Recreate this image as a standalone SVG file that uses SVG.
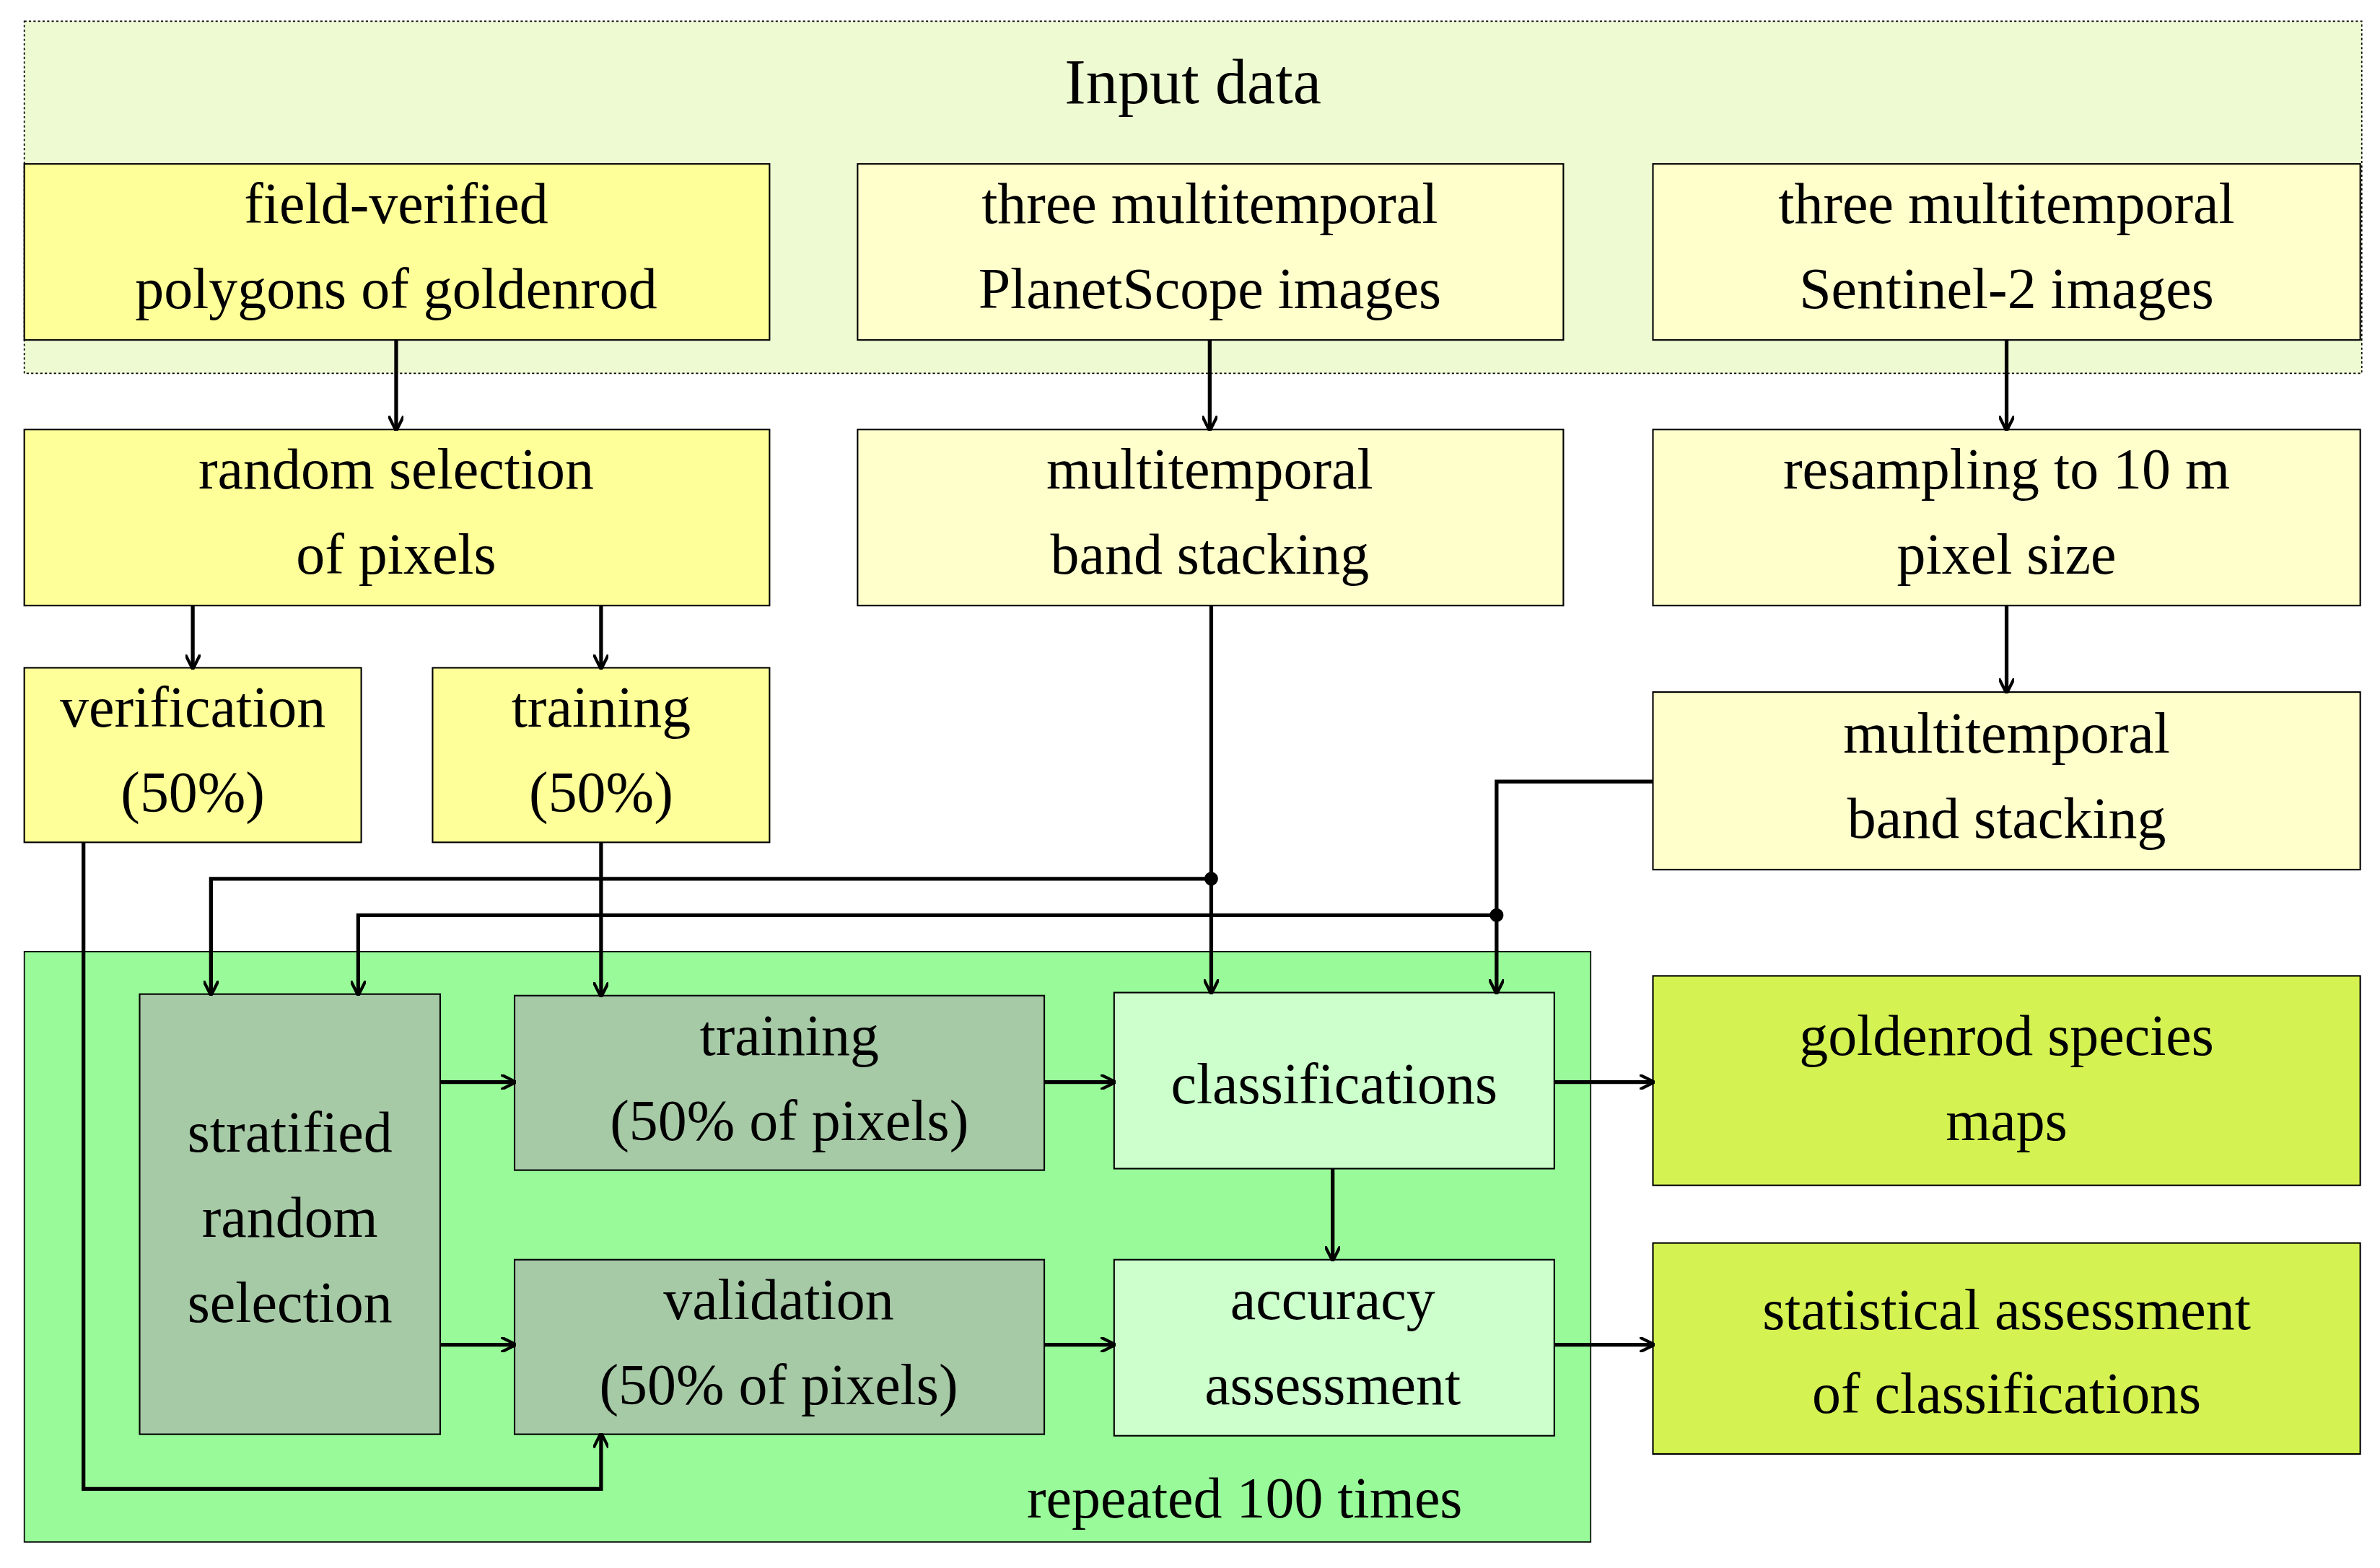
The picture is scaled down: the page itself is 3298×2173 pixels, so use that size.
<svg xmlns="http://www.w3.org/2000/svg" width="3298" height="2173" viewBox="0 0 3298 2173">
<defs>
<marker id="ah" viewBox="0 0 10 10" refX="9" refY="5" markerWidth="4" markerHeight="4" orient="auto" markerUnits="strokeWidth"><path d="M0,0 L10,5 L0,10" fill="none" stroke="#000" stroke-width="2"/></marker>
<style>
.b{stroke:#000;stroke-width:1}
.y1{fill:#ffff99}.y2{fill:#ffffcc}.dg{fill:#a6c9a6}.lg{fill:#ccffcc}.yg{fill:#d4f252}
text{font-family:"Liberation Serif","DejaVu Serif",serif;font-size:38px;text-anchor:middle;fill:#000}
.c{fill:none;stroke:#000;stroke-width:2.5}
.a{marker-end:url(#ah)}
</style>
</defs>
<rect width="3298" height="2173" fill="#fff"/>
<g transform="scale(2.1033)">
<g id="input"><rect x="16" y="14" width="1540" height="232" fill="#eefad2" stroke="#000" stroke-width="0.8" stroke-dasharray="1.5,1.5"/><text x="786" y="68" style="font-size:42px">Input data</text></g>
<g id="n1"><rect class="b y1" x="16" y="108" width="491" height="116"/><text x="261" y="147">field-verified</text><text x="261" y="203">polygons of goldenrod</text></g>
<g id="n2"><rect class="b y2" x="565" y="108" width="465" height="116"/><text x="797" y="147">three multitemporal</text><text x="797" y="203">PlanetScope images</text></g>
<g id="n3"><rect class="b y2" x="1089" y="108" width="466" height="116"/><text x="1322" y="147">three multitemporal</text><text x="1322" y="203">Sentinel-2 images</text></g>
<g id="n4"><rect class="b y1" x="16" y="283" width="491" height="116"/><text x="261" y="322">random selection</text><text x="261" y="378">of pixels</text></g>
<g id="n5"><rect class="b y2" x="565" y="283" width="465" height="116"/><text x="797" y="322">multitemporal</text><text x="797" y="378">band stacking</text></g>
<g id="n6"><rect class="b y2" x="1089" y="283" width="466" height="116"/><text x="1322" y="322">resampling to 10 m</text><text x="1322" y="378">pixel size</text></g>
<g id="n7"><rect class="b y1" x="16" y="440" width="222" height="115"/><text x="127" y="479">verification</text><text x="127" y="535">(50%)</text></g>
<g id="n8"><rect class="b y1" x="285" y="440" width="222" height="115"/><text x="396" y="479">training</text><text x="396" y="535">(50%)</text></g>
<g id="n9"><rect class="b y2" x="1089" y="456" width="466" height="117"/><text x="1322" y="496">multitemporal</text><text x="1322" y="552">band stacking</text></g>
<g id="loop"><rect x="16" y="627" width="1032" height="389" fill="#99fa99" stroke="#000" stroke-width="0.8"/><text x="820" y="1000">repeated 100 times</text></g>
<g id="n10"><rect class="b dg" x="92" y="655" width="198" height="290"/><text x="191" y="759">stratified</text><text x="191" y="815">random</text><text x="191" y="871">selection</text></g>
<g id="n11"><rect class="b dg" x="339" y="656" width="349" height="115"/><text x="520" y="695">training</text><text x="520" y="751">(50% of pixels)</text></g>
<g id="n12"><rect class="b dg" x="339" y="830" width="349" height="115"/><text x="513" y="869">validation</text><text x="513" y="925">(50% of pixels)</text></g>
<g id="n13"><rect class="b lg" x="734" y="654" width="290" height="116"/><text x="879" y="727">classifications</text></g>
<g id="n14"><rect class="b lg" x="734" y="830" width="290" height="116"/><text x="878" y="869">accuracy</text><text x="878" y="925">assessment</text></g>
<g id="n15"><rect class="b yg" x="1089" y="643" width="466" height="138"/><text x="1322" y="695">goldenrod species</text><text x="1322" y="751">maps</text></g>
<g id="n16"><rect class="b yg" x="1089" y="819" width="466" height="139"/><text x="1322" y="876">statistical assessment</text><text x="1322" y="931">of classifications</text></g>
<g id="connectors">
<path class="c a" d="M261,224V283"/>
<path class="c a" d="M797,224V283"/>
<path class="c a" d="M1322,224V283"/>
<path class="c a" d="M127,399V440"/>
<path class="c a" d="M396,399V440"/>
<path class="c a" d="M1322,399V456"/>
<path class="c a" d="M798,399V654"/>
<path class="c a" d="M798,579H139V655"/>
<path class="c a" d="M1089,515H986V654"/>
<path class="c a" d="M986,603H236V655"/>
<path class="c a" d="M396,555V656"/>
<path class="c a" d="M55,555V981H396V945"/>
<path class="c a" d="M290,713H339"/>
<path class="c a" d="M290,886H339"/>
<path class="c a" d="M688,713H734"/>
<path class="c a" d="M688,886H734"/>
<path class="c a" d="M878,770V830"/>
<path class="c a" d="M1024,713H1089"/>
<path class="c a" d="M1024,886H1089"/>
<circle cx="798" cy="579" r="4.5"/>
<circle cx="986" cy="603" r="4.5"/>
</g>
</g>
</svg>
